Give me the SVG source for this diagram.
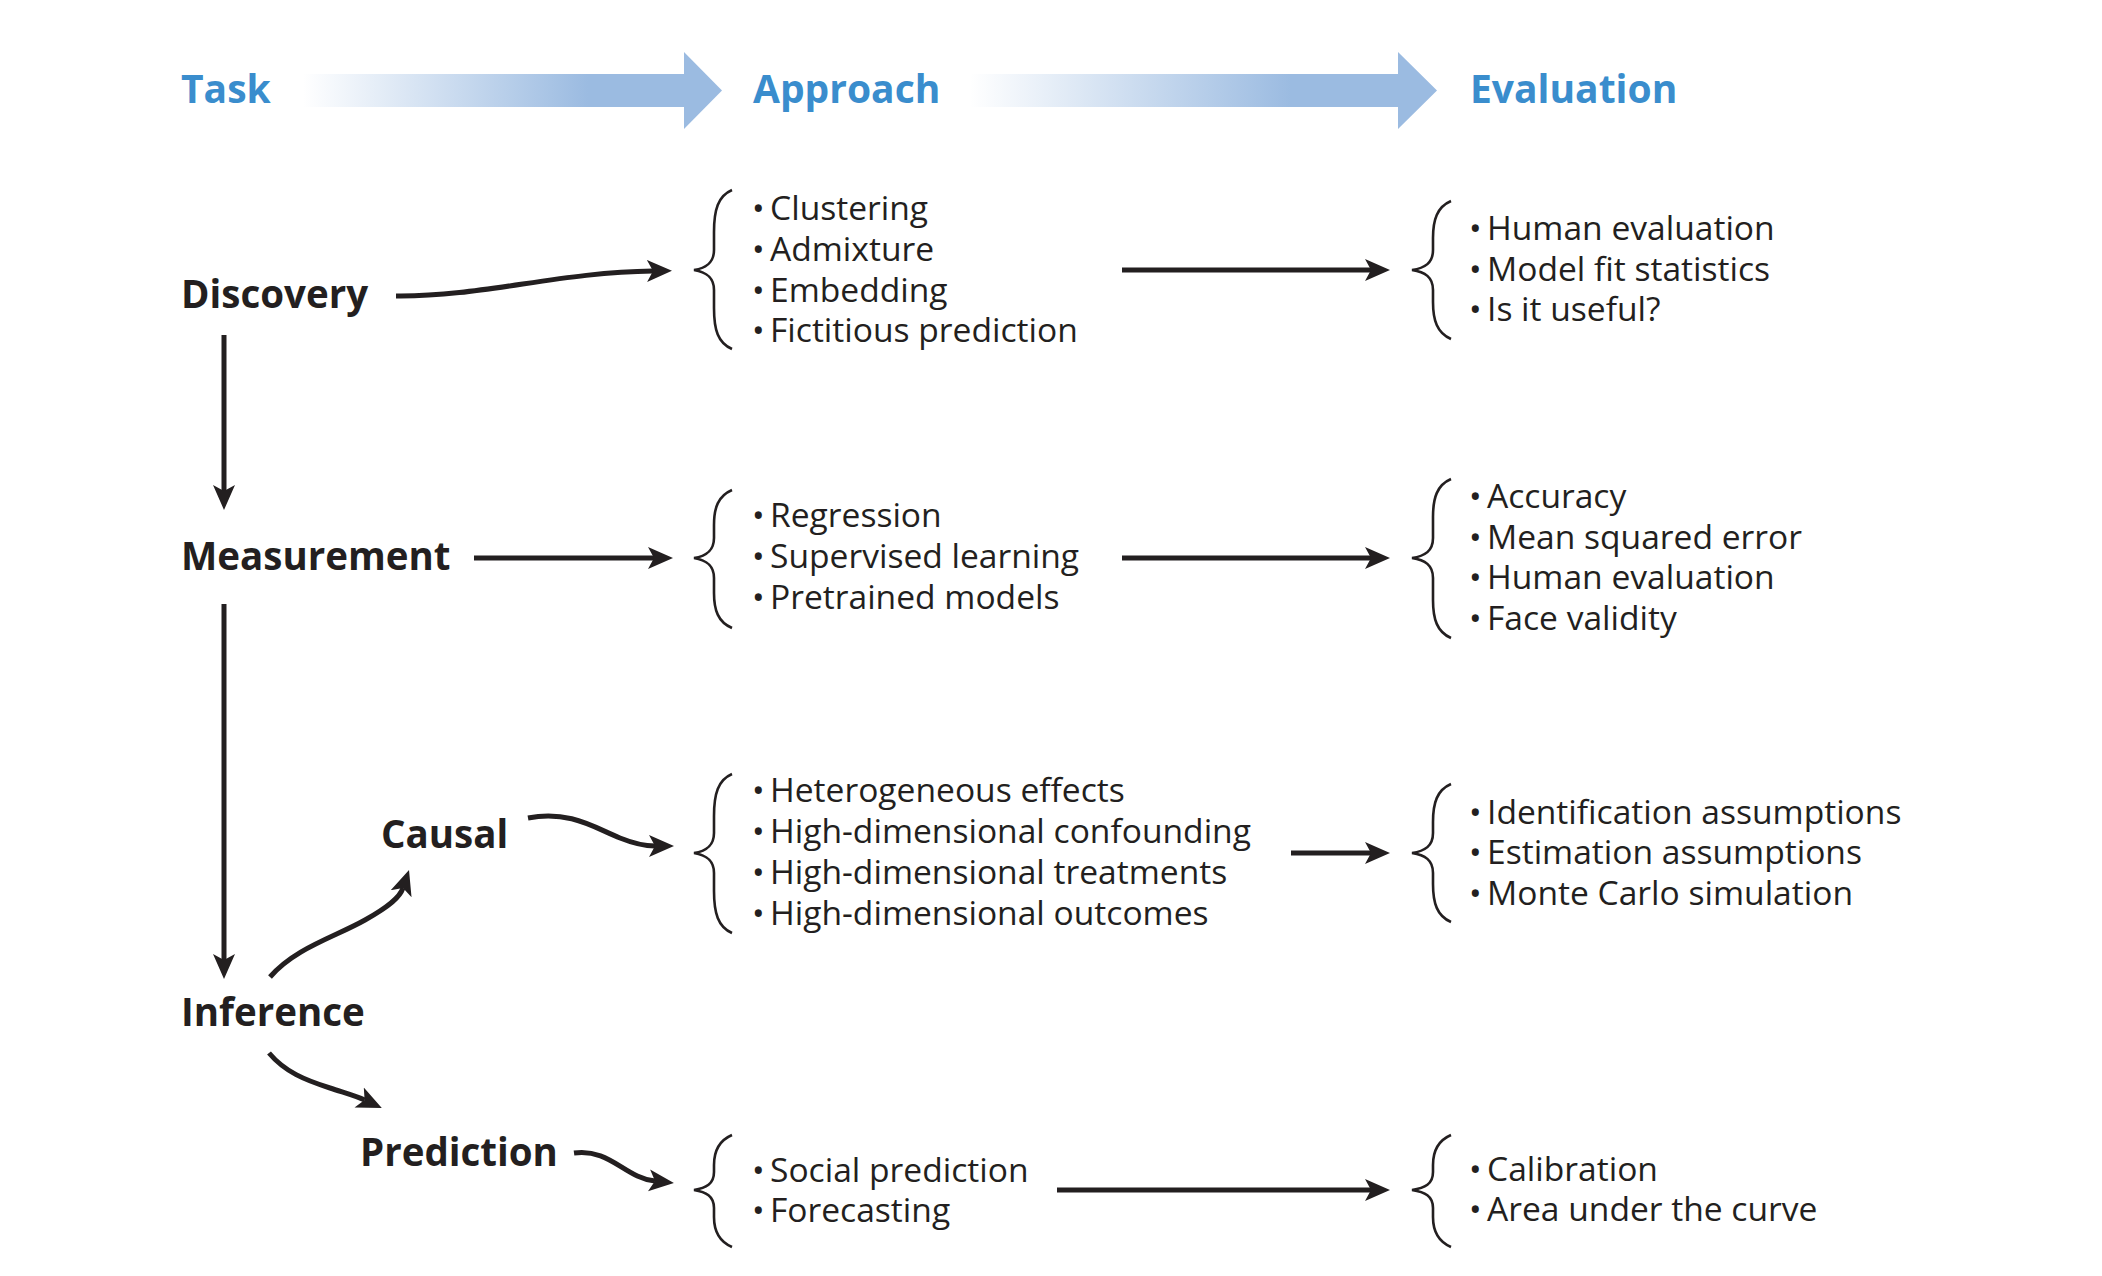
<svg xmlns="http://www.w3.org/2000/svg" width="2102" height="1276" viewBox="0 0 2102 1276">
<style>
.hdr{font-family:"Open Sans","Noto Sans",sans-serif;font-weight:700;font-size:39px;fill:#3a8dcd}
.task{font-family:"Open Sans","Noto Sans",sans-serif;font-weight:700;font-size:38.5px;fill:#231f20}
.item{font-family:"Open Sans","Noto Sans",sans-serif;font-size:33.6px;fill:#231f20}
.conn{fill:none;stroke:#231f20;stroke-width:5}
.brace{fill:none;stroke:#231f20;stroke-width:2.6}
</style>
<defs>
<marker id="ah" markerUnits="userSpaceOnUse" markerWidth="28" markerHeight="26" viewBox="0 -13 28 26" refX="6" refY="0" orient="auto">
<path d="M0,-11 L25,0 L0,11 L6,0 Z" fill="#231f20"/>
</marker>
<linearGradient id="g1" gradientUnits="userSpaceOnUse" x1="303" y1="0" x2="683" y2="0">
<stop offset="0" stop-color="#9bbbe1" stop-opacity="0"/>
<stop offset="0.75" stop-color="#9bbbe1"/>
<stop offset="1" stop-color="#9bbbe1"/>
</linearGradient>
<linearGradient id="g2" gradientUnits="userSpaceOnUse" x1="970" y1="0" x2="1398" y2="0">
<stop offset="0" stop-color="#9bbbe1" stop-opacity="0"/>
<stop offset="0.75" stop-color="#9bbbe1"/>
<stop offset="1" stop-color="#9bbbe1"/>
</linearGradient>
</defs>

<g id="header">
<path d="M303,74 L684,74 L684,52 L722,90.5 L684,129 L684,107 L303,107 Z" fill="url(#g1)"/>
<path d="M970,74 L1398,74 L1398,52 L1437,90.5 L1398,129 L1398,107 L970,107 Z" fill="url(#g2)"/>
<text class="hdr" x="181" y="103">Task</text>
<text class="hdr" x="753" y="103">Approach</text>
<text class="hdr" x="1470" y="103">Evaluation</text>
</g>

<g id="connectors">
<path class="conn" d="M396,296 C480,297 560,272 653,271" marker-end="url(#ah)"/>
<path class="conn" d="M224,335 L224,491" marker-end="url(#ah)"/>
<path class="conn" d="M474,558 L654,558" marker-end="url(#ah)"/>
<path class="conn" d="M224,604 L224,960" marker-end="url(#ah)"/>
<path class="conn" d="M270,977 C295,948 335,937 365,920 C390,906 400,897 403,888" marker-end="url(#ah)"/>
<path class="conn" d="M269,1053 C285,1072 305,1080 330,1088 C345,1093 356,1096 364.6,1100" marker-end="url(#ah)"/>
<path class="conn" d="M528,818 C570,810 595,828 620,838 C635,844 645,846 655,846" marker-end="url(#ah)"/>
<path class="conn" d="M574,1153 C610,1148 625,1178 655,1181" marker-end="url(#ah)"/>
<path class="conn" d="M1122,270 L1371,270" marker-end="url(#ah)"/>
<path class="conn" d="M1122,558 L1371,558" marker-end="url(#ah)"/>
<path class="conn" d="M1291,853 L1371,853" marker-end="url(#ah)"/>
<path class="conn" d="M1057,1190 L1371,1190" marker-end="url(#ah)"/>
</g>

<g id="discovery">
<text class="task" x="181" y="308">Discovery</text>
</g>
<g id="measurement">
<text class="task" x="181" y="570">Measurement</text>
</g>
<g id="causal">
<text class="task" x="381" y="848">Causal</text>
</g>
<g id="inference">
<text class="task" x="181" y="1026">Inference</text>
</g>
<g id="prediction">
<text class="task" x="360" y="1166">Prediction</text>
</g>

<g id="discovery-approach">
<path class="brace" d="M732,190 C718,196 714,210 714,232 L714,250 C714,263 706,268 694,270 C706,272 714,277 714,290 L714,308 C714,330 718,343 732,349"/>
<text class="item" x="752" y="220">•<tspan x="770">Clustering</tspan></text>
<text class="item" x="752" y="261">•<tspan x="770">Admixture</tspan></text>
<text class="item" x="752" y="302">•<tspan x="770">Embedding</tspan></text>
<text class="item" x="752" y="342">•<tspan x="770">Fictitious prediction</tspan></text>
</g>
<g id="discovery-evaluation">
<path class="brace" d="M1451,201 C1437,207 1433,220 1433,238 L1433,250 C1433,263 1425,268 1412,270 C1425,272 1433,277 1433,290 L1433,302 C1433,320 1437,333 1451,339"/>
<text class="item" x="1469" y="240">•<tspan x="1487">Human evaluation</tspan></text>
<text class="item" x="1469" y="281">•<tspan x="1487">Model fit statistics</tspan></text>
<text class="item" x="1469" y="321">•<tspan x="1487">Is it useful?</tspan></text>
</g>

<g id="measurement-approach">
<path class="brace" d="M732,490 C718,496 714,508 714,525 L714,538 C714,551 706,556 694,558 C706,560 714,565 714,578 L714,593 C714,610 718,622 732,628"/>
<text class="item" x="752" y="527">•<tspan x="770">Regression</tspan></text>
<text class="item" x="752" y="568">•<tspan x="770">Supervised learning</tspan></text>
<text class="item" x="752" y="609">•<tspan x="770">Pretrained models</tspan></text>
</g>
<g id="measurement-evaluation">
<path class="brace" d="M1451,479 C1437,485 1433,498 1433,517 L1433,538 C1433,551 1425,556 1412,558 C1425,560 1433,565 1433,578 L1433,600 C1433,619 1437,632 1451,638"/>
<text class="item" x="1469" y="508">•<tspan x="1487">Accuracy</tspan></text>
<text class="item" x="1469" y="549">•<tspan x="1487">Mean squared error</tspan></text>
<text class="item" x="1469" y="589">•<tspan x="1487">Human evaluation</tspan></text>
<text class="item" x="1469" y="630">•<tspan x="1487">Face validity</tspan></text>
</g>

<g id="causal-approach">
<path class="brace" d="M732,774 C718,780 714,794 714,816 L714,833 C714,846 706,851 694,853 C706,855 714,860 714,873 L714,891 C714,913 718,927 732,933"/>
<text class="item" x="752" y="802">•<tspan x="770">Heterogeneous effects</tspan></text>
<text class="item" x="752" y="843">•<tspan x="770">High-dimensional confounding</tspan></text>
<text class="item" x="752" y="884">•<tspan x="770">High-dimensional treatments</tspan></text>
<text class="item" x="752" y="925">•<tspan x="770">High-dimensional outcomes</tspan></text>
</g>
<g id="causal-evaluation">
<path class="brace" d="M1451,784 C1437,790 1433,803 1433,822 L1433,833 C1433,846 1425,851 1412,853 C1425,855 1433,860 1433,873 L1433,884 C1433,903 1437,916 1451,922"/>
<text class="item" x="1469" y="824">•<tspan x="1487">Identification assumptions</tspan></text>
<text class="item" x="1469" y="864">•<tspan x="1487">Estimation assumptions</tspan></text>
<text class="item" x="1469" y="905">•<tspan x="1487">Monte Carlo simulation</tspan></text>
</g>

<g id="prediction-approach">
<path class="brace" d="M732,1135 C718,1141 714,1152 714,1165 L714,1172 C714,1184 706,1188 694,1190 C706,1192 714,1196 714,1208 L714,1217 C714,1230 718,1241 732,1247"/>
<text class="item" x="752" y="1182">•<tspan x="770">Social prediction</tspan></text>
<text class="item" x="752" y="1222">•<tspan x="770">Forecasting</tspan></text>
</g>
<g id="prediction-evaluation">
<path class="brace" d="M1451,1135 C1437,1141 1433,1152 1433,1165 L1433,1172 C1433,1184 1425,1188 1412,1190 C1425,1192 1433,1196 1433,1208 L1433,1217 C1433,1230 1437,1241 1451,1247"/>
<text class="item" x="1469" y="1181">•<tspan x="1487">Calibration</tspan></text>
<text class="item" x="1469" y="1221">•<tspan x="1487">Area under the curve</tspan></text>
</g>
</svg>
